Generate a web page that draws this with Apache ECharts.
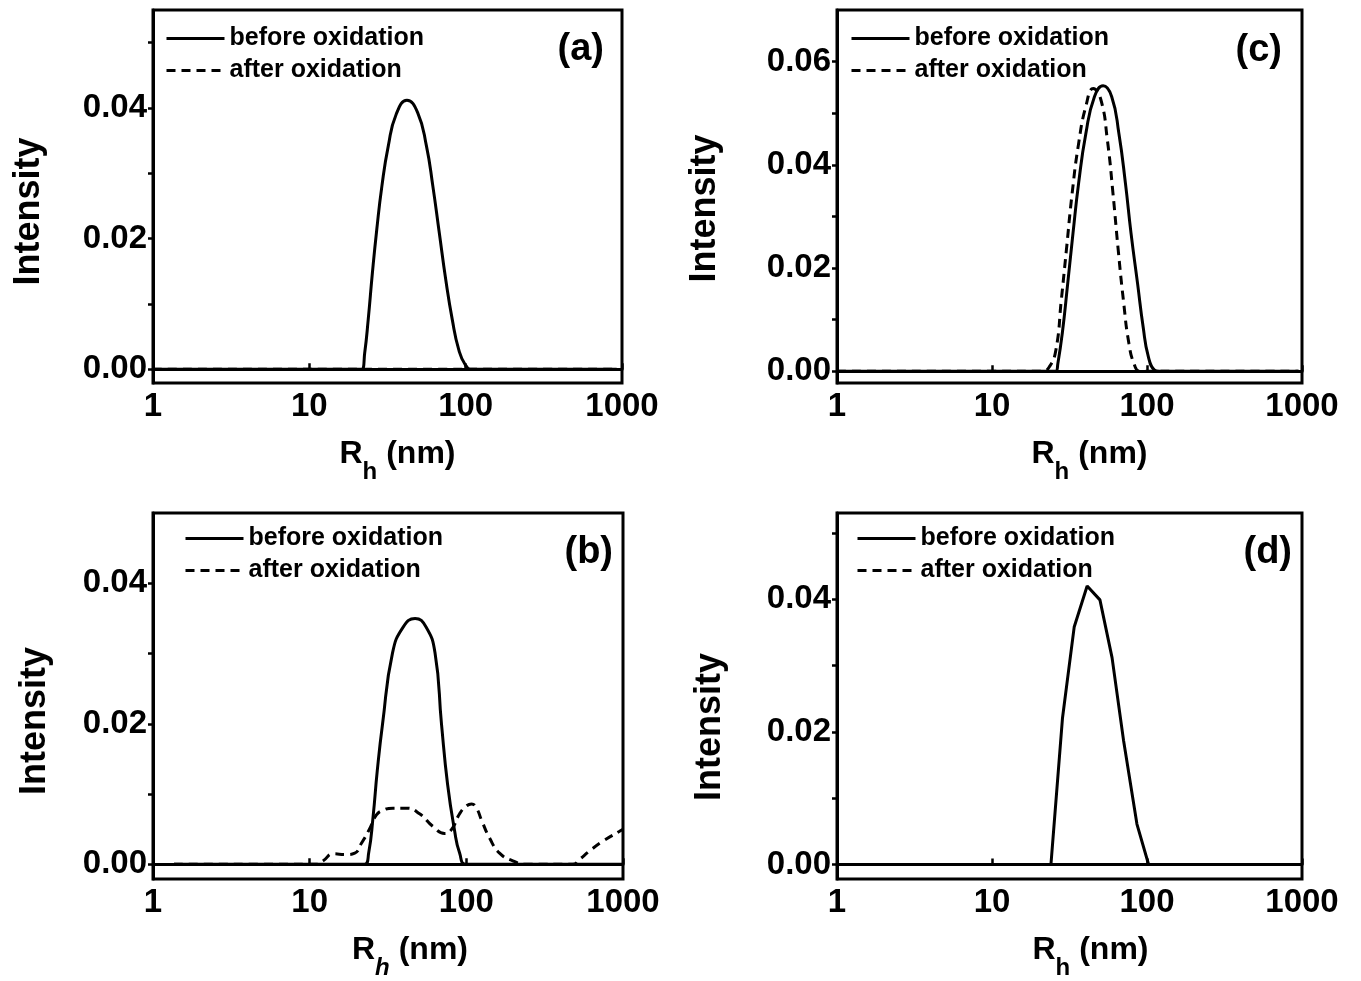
<!DOCTYPE html>
<html><head><meta charset="utf-8">
<script src="https://cdn.jsdelivr.net/npm/echarts@6/dist/echarts.min.js"></script>
<style>html,body{margin:0;padding:0;background:#fff}#c{width:1361px;height:981px}</style>
</head><body><div id="c"></div><script>
const FONT = 'Liberation Sans';
const seriesNames = ['before oxidation', 'after oxidation'];
const panelLabels = ['(a)', '(c)', '(b)', '(d)'];

// Panel (a)
const aBefore = [[1,0],[10,0],[20,0],[21.6,0],[22.6,0.0025],[23.8,0.0076],[25.3,0.0147],[27.0,0.0214],[29.1,0.028],[32.0,0.0342],[35.9,0.039],[42.1,0.0412],[49.3,0.0393],[56.1,0.0342],[61.7,0.028],[67.8,0.0209],[74.6,0.0137],[82.1,0.0076],[90.3,0.003],[99.4,0.0007],[109,0],[200,0],[925,0]];
const aAfter = [[1,0],[925,0]];
// Panel (c)
const cBefore = [[1,0],[10,0],[22.7,0],[25.8,0],[26.6,0.0015],[28.4,0.0073],[30.8,0.017],[33.3,0.0267],[36.2,0.0364],[40.3,0.046],[45.8,0.0532],[52.1,0.0553],[59.2,0.0532],[65.9,0.046],[72.6,0.0364],[78.9,0.0267],[86.9,0.017],[94.4,0.0086],[102,0.0028],[112,0.0002],[120,0],[300,0],[950,0]];
const cAfter = [[1,0],[10,0],[21.3,0],[23.4,0.0008],[25.8,0.004],[28.0,0.0138],[30.2,0.0235],[32.9,0.0345],[36.2,0.0441],[40.3,0.0513],[45.0,0.0548],[50.4,0.0526],[55.5,0.0448],[60.3,0.0345],[65.2,0.0235],[70.4,0.0138],[76.4,0.0054],[83.0,0.0012],[89.7,0],[200,0],[950,0]];
// Panel (b)
const bBefore = [[1.36,0],[10,0],[22.4,0],[23.8,0.0016],[25.4,0.0068],[27.0,0.0133],[29.2,0.02],[33.8,0.0301],[39.6,0.0338],[47.1,0.035],[55.2,0.0338],[63.1,0.0301],[69.4,0.02],[75.9,0.0114],[84.0,0.0049],[90.6,0.0016],[99.8,0],[300,0],[1000,0]];
const bAfter = [[1.36,0],[5,0],[11.0,0],[12.2,0.0005],[14.1,0.0015],[17.1,0.0014],[19.4,0.0016],[21.4,0.003],[24.2,0.0051],[26.6,0.007],[29.4,0.0077],[34.0,0.008],[41.4,0.008],[50.3,0.0072],[61.2,0.0054],[72.6,0.0044],[80.1,0.0049],[90.6,0.0072],[100,0.0083],[108,0.0086],[116,0.008],[125,0.0063],[141,0.0037],[163,0.0016],[198,0.0005],[241,0],[479,0],[528,0.0007],[612,0.0019],[744,0.0033],[951,0.0047],[1000,0.005]];
// Panel (d)
const dBefore = [[1,0],[24.0,0],[28.5,0.0221],[33.9,0.0358],[41.1,0.042],[49.7,0.0399],[59.5,0.0312],[70.6,0.0187],[86.1,0.0061],[102.4,0],[925,0]];
const dAfter = [[1,0],[925,0]];

const yTicksA = [0, 0.01, 0.02, 0.03, 0.04, 0.05];
const yTicksC = [0, 0.01, 0.02, 0.03, 0.04, 0.05, 0.06];
const yTicksB = [0, 0.01, 0.02, 0.03, 0.04];
const yTicksD = [0, 0.01, 0.02, 0.03, 0.04, 0.05];

const panels = [
  {grid:{left:153, top:10, width:469, height:373}, ymin:-0.0021, ymax:0.055, major:[0,0.02,0.04], ticks:yTicksA,
   before:aBefore, after:aAfter, smooth:0.5, legend:{left:165, top:26}, label:{x:604,y:50},
   xNameGap:28, xNamePad:20, italic:false, yNameGap:106, yNamePad:30},
  {grid:{left:837, top:10, width:465, height:373}, ymin:-0.0023, ymax:0.07, major:[0,0.02,0.04,0.06], ticks:yTicksC,
   before:cBefore, after:cAfter, smooth:0.5, legend:{left:850, top:26}, label:{x:1282,y:51},
   xNameGap:35, xNamePad:40, italic:false, yNameGap:114, yNamePad:24},
  {grid:{left:153, top:513, width:470, height:374}, ymin:-0.0021, ymax:0.05, major:[0,0.02,0.04], ticks:yTicksB,
   before:bBefore, after:bAfter, smooth:0.5, legend:{left:184, top:526}, label:{x:613,y:553},
   xNameGap:38, xNamePad:44, italic:true, yNameGap:100, yNamePad:50},
  {grid:{left:837, top:513, width:465, height:375}, ymin:-0.0022, ymax:0.053, major:[0,0.02,0.04], ticks:yTicksD,
   before:dBefore, after:dAfter, smooth:false, legend:{left:856, top:526}, label:{x:1292,y:553},
   xNameGap:45, xNamePad:42, italic:false, yNameGap:109, yNamePad:62}
];

const grids = [], xAxes = [], yAxes = [], series = [], legends = [], graphics = [];
panels.forEach((p, i) => {
  grids.push(Object.assign({show:true, borderColor:'#000', borderWidth:3, backgroundColor:'transparent', containLabel:false}, p.grid));
  xAxes.push({
    type:'log', logBase:10, min:1, max:1000, gridIndex:i,
    axisLine:{show:true, lineStyle:{color:'#000', width:3}},
    axisTick:{show:true, inside:true, length:6, lineStyle:{color:'#000', width:2.5}},
    axisLabel:{color:'#000', fontFamily:FONT, fontWeight:'bold', fontSize:33, margin:7,
      formatter:v=>String(Math.round(v))},
    splitLine:{show:false},
    name:'{r|R}{s|h}{r| (nm)}', nameLocation:'middle', nameGap:p.xNameGap,
    nameTextStyle:{padding:[0,0,0,p.xNamePad], rich:{
      r:{fontFamily:FONT, fontWeight:'bold', fontSize:32, color:'#000', lineHeight:36},
      s:{fontFamily:FONT, fontWeight:'bold', fontStyle:p.italic?'italic':'normal', fontSize:24, color:'#000', lineHeight:24, padding:[36,0,0,0]}
    }}
  });
  yAxes.push({
    type:'value', gridIndex:i, min:p.ymin, max:p.ymax,
    axisLine:{show:true, lineStyle:{color:'#000', width:3}},
    axisTick:{show:true, inside:false, length:5, customValues:p.ticks, lineStyle:{color:'#000', width:2.5}},
    axisLabel:{customValues:p.major, formatter:v=>v.toFixed(2), color:'#000', fontFamily:FONT, fontWeight:'bold', fontSize:33, margin:6},
    splitLine:{show:false},
    name:'Intensity', nameLocation:'middle', nameRotate:90, nameGap:p.yNameGap,
    nameTextStyle:{fontFamily:FONT, fontWeight:'bold', fontSize:36, color:'#000', padding:[0,p.yNamePad,0,0]}
  });
  series.push({
    name:seriesNames[0], type:'line', xAxisIndex:i, yAxisIndex:i, data:p.before,
    showSymbol:false, symbol:'none', smooth:p.smooth,
    lineStyle:{color:'#000', width:3, type:'solid'}, itemStyle:{color:'#000'}, z:2
  });
  series.push({
    name:seriesNames[1], type:'line', xAxisIndex:i, yAxisIndex:i, data:p.after,
    showSymbol:false, symbol:'none', smooth:p.smooth,
    lineStyle:{color:'#000', width:3, type:[9,6]}, itemStyle:{color:'#000'}, z:3
  });
  legends.push({
    data:seriesNames, orient:'vertical', left:p.legend.left, top:p.legend.top, padding:0,
    itemWidth:58, itemHeight:14, itemGap:7, selectedMode:false,
    itemStyle:{color:'rgba(0,0,0,0)', borderColor:'rgba(0,0,0,0)', borderWidth:0, opacity:0},
    lineStyle:{width:3},
    textStyle:{fontFamily:FONT, fontWeight:'bold', fontSize:25, color:'#000'}
  });
  graphics.push({
    type:'text', x:p.label.x, y:p.label.y,
    style:{text:panelLabels[i], font:'bold 38px "Liberation Sans"', fill:'#000', align:'right', verticalAlign:'middle', textAlign:'right', textVerticalAlign:'middle'}
  });
});

const chart = echarts.init(document.getElementById('c'), null, {renderer:'canvas'});
chart.setOption({
  animation:false, backgroundColor:'#fff',
  grid:grids, xAxis:xAxes, yAxis:yAxes, series:series, legend:legends, graphic:graphics
});
</script></body></html>
